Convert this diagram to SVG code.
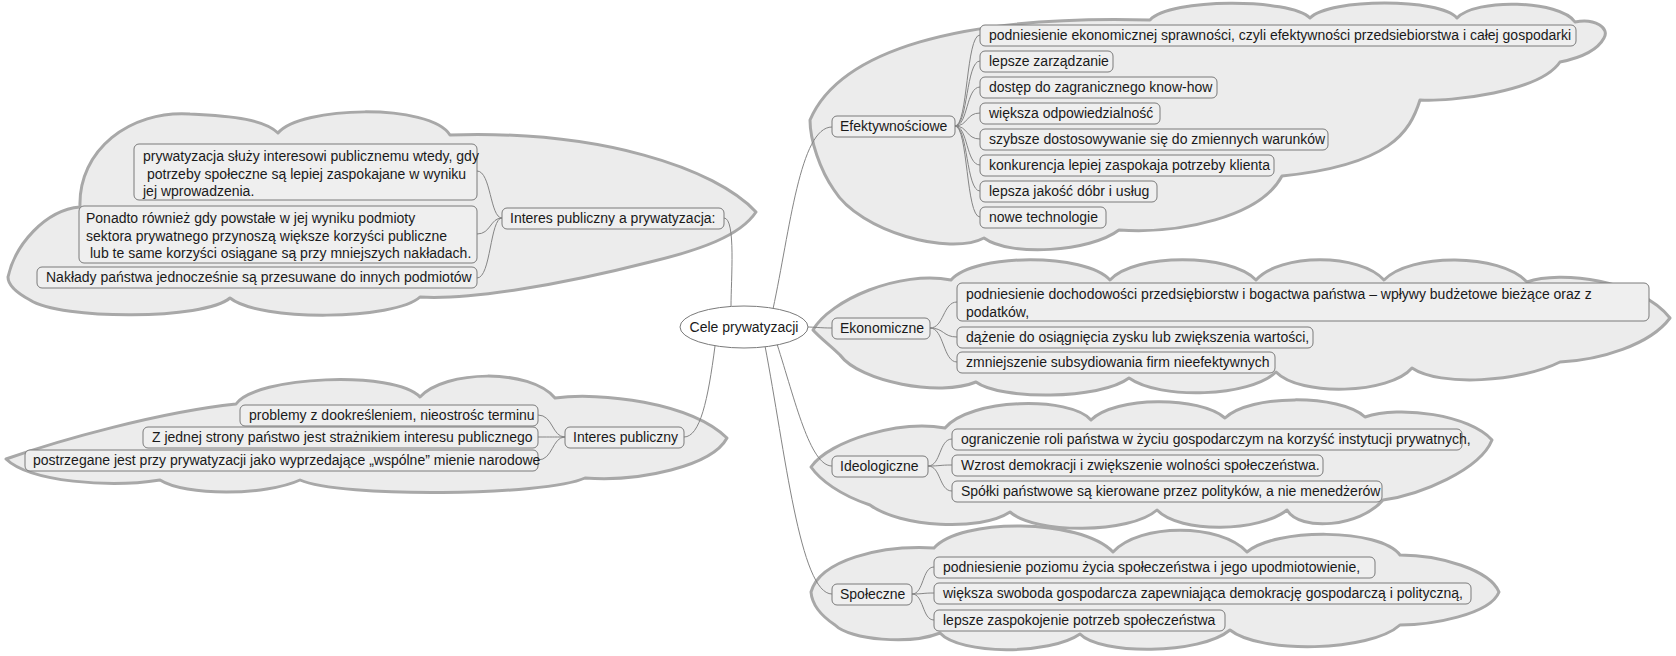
<svg xmlns="http://www.w3.org/2000/svg" width="1676" height="656" viewBox="0 0 1676 656">
<style>
.cloud{fill:#ececec;stroke:#a8a8a8;stroke-width:3;stroke-linejoin:round}
.box{fill:#efefef;stroke:#7a7a7a;stroke-width:1}
.t{font-family:"Liberation Sans",Arial,sans-serif;font-size:14px;fill:#1a1a1a}
.c{fill:none;stroke:#858585;stroke-width:1}
.root{fill:#ffffff;stroke:#7a7a7a;stroke-width:1}
</style>
<rect width="1676" height="656" fill="#ffffff"/>
<g id="clouds">
<path class="cloud" d="M 8,277 C 15,245 45,210 80,207 C 78,150 130,110 190,114 C 235,116 265,120 278,133 C 300,106 430,103 450,135 C 600,130 715,168 756,212 C 740,236 700,250 650,262 C 560,285 470,300 420,297 C 395,320 260,322 230,298 C 205,320 60,320 30,300 C 15,292 8,285 8,277 Z"/>
<path class="cloud" d="M 6,459 C 60,440 160,412 236,404 C 255,376 395,370 420,397 C 445,370 530,368 555,398 C 600,392 690,402 727,438 C 712,466 640,482 585,478 C 545,496 340,498 300,480 C 265,496 185,496 160,480 C 110,488 30,482 6,459 Z"/>
<path class="cloud" d="M 810,120 C 840,50 960,15 1150,20 C 1170,-2 1290,-2 1310,18 C 1330,-2 1440,-2 1457,18 C 1475,-2 1560,0 1575,22 C 1595,18 1610,28 1604,38 C 1595,55 1570,60 1560,62 C 1540,92 1450,102 1420,100 C 1410,132 1390,165 1282,176 C 1260,217 1180,234 1119,230 C 1090,252 1010,257 984,238 C 950,256 860,232 834,190 C 820,170 810,140 810,120 Z"/>
<path class="cloud" d="M 813,330 C 830,300 900,270 951,280 C 975,253 1085,253 1110,280 C 1135,253 1230,253 1256,280 C 1280,253 1360,253 1384,280 C 1410,253 1500,253 1527,282 C 1560,270 1640,280 1670,318 C 1650,345 1600,360 1560,362 C 1520,382 1440,387 1412,368 C 1390,394 1300,397 1276,372 C 1250,397 1160,400 1129,378 C 1100,400 1000,400 976,382 C 940,397 860,382 840,355 C 830,345 820,338 813,330 Z"/>
<path class="cloud" d="M 811,467 C 830,440 900,420 945,428 C 970,398 1070,396 1091,420 C 1115,396 1200,396 1225,418 C 1250,394 1340,394 1365,417 C 1400,405 1470,415 1492,440 C 1480,470 1420,495 1383,500 C 1360,527 1300,532 1287,510 C 1260,532 1180,534 1157,510 C 1130,534 1035,534 1010,512 C 980,532 900,527 870,505 C 840,495 820,480 811,467 Z"/>
<path class="cloud" d="M 811,592 C 820,560 880,545 934,548 C 960,518 1080,518 1113,552 C 1140,523 1220,523 1247,552 C 1275,528 1380,528 1400,555 C 1440,555 1490,570 1499,592 C 1490,615 1430,625 1400,625 C 1370,652 1260,654 1230,630 C 1200,655 1100,655 1080,634 C 1050,655 960,655 940,633 C 910,645 850,640 835,625 C 820,615 812,605 811,592 Z"/>
</g>
<g id="connectors">
<path class="c" d="M 724,218 C 736,218 731,280 731,306"/>
<path class="c" d="M 684,437 C 700,437 708,400 715,346"/>
<path class="c" d="M 773,309 C 790,230 800,127 832,127"/>
<path class="c" d="M 806,327 C 815,327 820,328 832,328"/>
<path class="c" d="M 777,344 C 795,400 810,466 832,466"/>
<path class="c" d="M 765,346 C 785,450 800,594 832,594"/>
<path class="c" d="M 502,218 C 490,218 491,171 477,171"/>
<path class="c" d="M 502,218 C 490,218 491,234 477,234"/>
<path class="c" d="M 502,218 C 490,218 491,278 477,278"/>
<path class="c" d="M 565,437 C 552,437 553,415 538,415"/>
<path class="c" d="M 565,437 C 552,437 553,437 538,437"/>
<path class="c" d="M 565,437 C 552,437 553,460 538,460"/>
<path class="c" d="M 955,126 C 968,126 966,35 980,35"/>
<path class="c" d="M 955,126 C 968,126 966,61 980,61"/>
<path class="c" d="M 955,126 C 968,126 966,87 980,87"/>
<path class="c" d="M 955,126 C 968,126 966,113 980,113"/>
<path class="c" d="M 955,126 C 968,126 966,139 980,139"/>
<path class="c" d="M 955,126 C 968,126 966,165 980,165"/>
<path class="c" d="M 955,126 C 968,126 966,191 980,191"/>
<path class="c" d="M 955,126 C 968,126 966,217 980,217"/>
<path class="c" d="M 930,328 C 944,328 943,302 957,302"/>
<path class="c" d="M 930,328 C 944,328 943,337 957,337"/>
<path class="c" d="M 930,328 C 944,328 943,362 957,362"/>
<path class="c" d="M 928,466 C 941,466 939,439 952,439"/>
<path class="c" d="M 928,466 C 941,466 939,465 952,465"/>
<path class="c" d="M 928,466 C 941,466 939,491 952,491"/>
<path class="c" d="M 912,594 C 924,594 922,567 934,567"/>
<path class="c" d="M 912,594 C 924,594 922,593 934,593"/>
<path class="c" d="M 912,594 C 924,594 922,620 934,620"/>
</g>
<g id="root">
<ellipse class="root" cx="744" cy="327" rx="64" ry="21"/>
<text class="t" x="744" y="332" text-anchor="middle">Cele prywatyzacji</text>
</g>
<g id="n-ipap">
<rect class="box" x="502" y="208" width="222" height="21" rx="5"/>
<text class="t" x="510" y="223">Interes publiczny a prywatyzacja:</text>
</g>
<g id="n-ipap-1">
<rect class="box" x="134" y="144" width="343" height="56" rx="5"/>
<text class="t" x="143" y="161">prywatyzacja służy interesowi publicznemu wtedy, gdy</text>
<text class="t" x="147" y="179">potrzeby społeczne są lepiej zaspokajane w wyniku</text>
<text class="t" x="143" y="196">jej wprowadzenia.</text>
</g>
<g id="n-ipap-2">
<rect class="box" x="79" y="206" width="398" height="57" rx="5"/>
<text class="t" x="86" y="223">Ponadto również gdy powstałe w jej wyniku podmioty</text>
<text class="t" x="86" y="241">sektora prywatnego przynoszą większe korzyści publiczne</text>
<text class="t" x="90" y="258">lub te same korzyści osiągane są przy mniejszych nakładach.</text>
</g>
<g id="n-ipap-3">
<rect class="box" x="37" y="267" width="440" height="21" rx="5"/>
<text class="t" x="46" y="282">Nakłady państwa jednocześnie są przesuwane do innych podmiotów</text>
</g>
<g id="n-ip">
<rect class="box" x="565" y="427" width="119" height="21" rx="5"/>
<text class="t" x="573" y="442">Interes publiczny</text>
</g>
<g id="n-ip-1">
<rect class="box" x="240" y="405" width="298" height="21" rx="5"/>
<text class="t" x="249" y="420">problemy z dookreśleniem, nieostrośc terminu</text>
</g>
<g id="n-ip-2">
<rect class="box" x="143" y="427" width="395" height="21" rx="5"/>
<text class="t" x="152" y="442">Z jednej strony państwo jest strażnikiem interesu publicznego</text>
</g>
<g id="n-ip-3">
<rect class="box" x="25" y="450" width="513" height="21" rx="5"/>
<text class="t" x="33" y="465">postrzegane jest przy prywatyzacji jako wyprzedające „wspólne” mienie narodowe</text>
</g>
<g id="n-ef">
<rect class="box" x="832" y="116" width="123" height="21" rx="5"/>
<text class="t" x="840" y="131">Efektywnościowe</text>
</g>
<g id="n-ef-1"><rect class="box" x="980" y="25" width="596" height="21" rx="5"/><text class="t" x="989" y="40">podniesienie ekonomicznej sprawności, czyli efektywności przedsiebiorstwa i całej gospodarki</text></g>
<g id="n-ef-2"><rect class="box" x="980" y="51" width="133" height="21" rx="5"/><text class="t" x="989" y="66">lepsze zarządzanie</text></g>
<g id="n-ef-3"><rect class="box" x="980" y="77" width="237" height="21" rx="5"/><text class="t" x="989" y="92">dostęp do zagranicznego know-how</text></g>
<g id="n-ef-4"><rect class="box" x="980" y="103" width="180" height="21" rx="5"/><text class="t" x="989" y="118">większa odpowiedzialność</text></g>
<g id="n-ef-5"><rect class="box" x="980" y="129" width="348" height="21" rx="5"/><text class="t" x="989" y="144">szybsze dostosowywanie się do zmiennych warunków</text></g>
<g id="n-ef-6"><rect class="box" x="980" y="155" width="294" height="21" rx="5"/><text class="t" x="989" y="170">konkurencja lepiej zaspokaja potrzeby klienta</text></g>
<g id="n-ef-7"><rect class="box" x="980" y="181" width="177" height="21" rx="5"/><text class="t" x="989" y="196">lepsza jakość dóbr i usług</text></g>
<g id="n-ef-8"><rect class="box" x="980" y="207" width="126" height="21" rx="5"/><text class="t" x="989" y="222">nowe technologie</text></g>
<g id="n-ek">
<rect class="box" x="832" y="318" width="98" height="21" rx="5"/>
<text class="t" x="840" y="333">Ekonomiczne</text>
</g>
<g id="n-ek-1"><rect class="box" x="957" y="283" width="692" height="38" rx="5"/><text class="t" x="966" y="299">podniesienie dochodowości przedsiębiorstw i bogactwa państwa – wpływy budżetowe bieżące oraz z</text><text class="t" x="966" y="317">podatków,</text></g>
<g id="n-ek-2"><rect class="box" x="957" y="327" width="356" height="21" rx="5"/><text class="t" x="966" y="342">dążenie do osiągnięcia zysku lub zwiększenia wartości,</text></g>
<g id="n-ek-3"><rect class="box" x="957" y="352" width="318" height="21" rx="5"/><text class="t" x="966" y="367">zmniejszenie subsydiowania firm nieefektywnych</text></g>
<g id="n-id">
<rect class="box" x="832" y="456" width="96" height="21" rx="5"/>
<text class="t" x="840" y="471">Ideologiczne</text>
</g>
<g id="n-id-1"><rect class="box" x="952" y="429" width="510" height="21" rx="5"/><text class="t" x="961" y="444">ograniczenie roli państwa w życiu gospodarczym na korzyść instytucji prywatnych,</text></g>
<g id="n-id-2"><rect class="box" x="952" y="455" width="371" height="21" rx="5"/><text class="t" x="961" y="470">Wzrost demokracji i zwiększenie wolności społeczeństwa.</text></g>
<g id="n-id-3"><rect class="box" x="952" y="481" width="430" height="21" rx="5"/><text class="t" x="961" y="496">Spółki państwowe są kierowane przez polityków, a nie menedżerów</text></g>
<g id="n-sp">
<rect class="box" x="832" y="584" width="80" height="21" rx="5"/>
<text class="t" x="840" y="599">Społeczne</text>
</g>
<g id="n-sp-1"><rect class="box" x="934" y="557" width="441" height="21" rx="5"/><text class="t" x="943" y="572">podniesienie poziomu życia społeczeństwa i jego upodmiotowienie,</text></g>
<g id="n-sp-2"><rect class="box" x="934" y="583" width="537" height="21" rx="5"/><text class="t" x="943" y="598">większa swoboda gospodarcza zapewniająca demokrację gospodarczą i polityczną,</text></g>
<g id="n-sp-3"><rect class="box" x="934" y="610" width="291" height="21" rx="5"/><text class="t" x="943" y="625">lepsze zaspokojenie potrzeb społeczeństwa</text></g>
</svg>
